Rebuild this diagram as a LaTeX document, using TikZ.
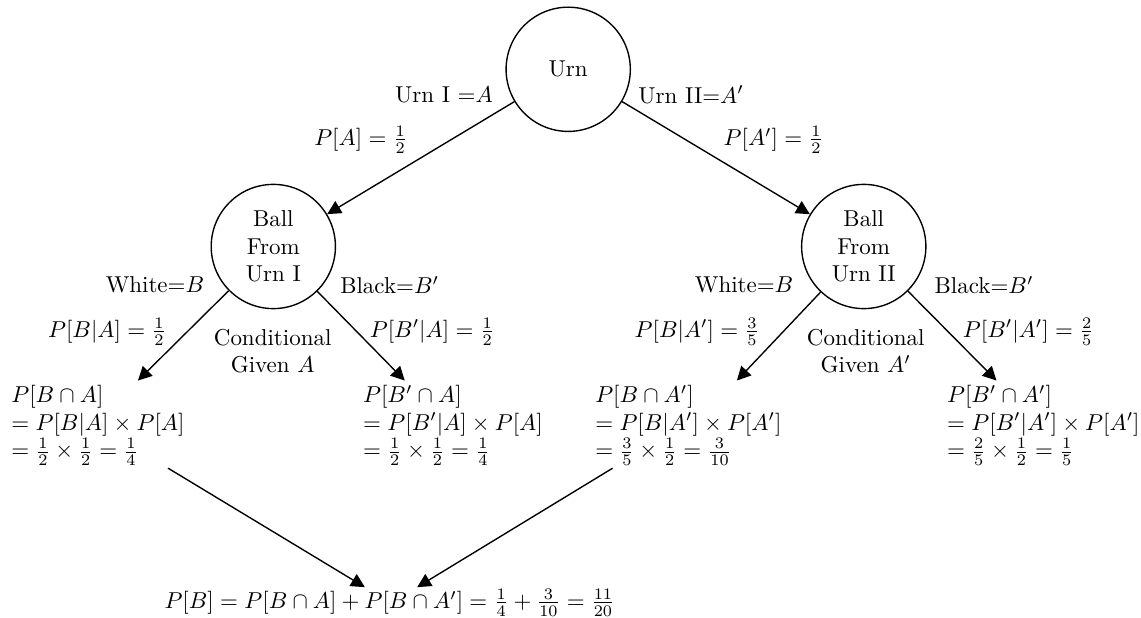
\documentclass[tikz,border=0pt]{standalone}
\usetikzlibrary{arrows.meta}

\begin{document}
\begin{tikzpicture}[
  state/.style={draw, semithick, circle, minimum size=1.9cm, align=center, inner sep=1pt},
  lbl/.style={align=center},
  leaf/.style={align=left, anchor=west},
  arrow/.style={-{Triangle[length=6pt,width=6pt]}, semithick}
]
  \useasboundingbox (0,0) rectangle (17.45,-9.45);
  \node[state] (u) at (8.69,-1.06) {Urn};
  \node[state] (b1) at (4.18,-3.77) {Ball\\From\\Urn I};
  \node[state] (b2) at (13.21,-3.77) {Ball\\From\\Urn II};

  \node[lbl] (ua) at (6.79,-1.45) {Urn I =$A$};
  \node[lbl] (ub) at (10.57,-1.45) {Urn II=$A'$};
  \node[lbl] (pa) at (5.52,-2.14) {$P[A]=\frac{1}{2}$};
  \node[lbl] (pb) at (11.83,-2.14) {$P[A']=\frac{1}{2}$};

  \node[lbl] (w1) at (2.37,-4.36) {White=$B$};
  \node[lbl] (k1) at (5.96,-4.36) {Black=$B'$};
  \node[lbl] (pw1) at (1.64,-5.07) {$P[B|A]=\frac{1}{2}$};
  \node[lbl] (pk1) at (6.61,-5.07) {$P[B'|A]=\frac{1}{2}$};
  \node[lbl] (c1) at (4.17,-5.37) {Conditional\\Given $A$};

  \node[lbl] (w2) at (11.38,-4.36) {White=$B$};
  \node[lbl] (k2) at (15.05,-4.36) {Black=$B'$};
  \node[lbl] (pw2) at (10.66,-5.07) {$P[B|A']=\frac{3}{5}$};
  \node[lbl] (pk2) at (15.73,-5.07) {$P[B'|A']=\frac{2}{5}$};
  \node[lbl] (c2) at (13.24,-5.37) {Conditional\\Given $A'$};

  \node[leaf] (l1) at (0.05,-6.51) {$P[B\cap A]$\\$=P[B|A]\times P[A]$\\$=\frac{1}{2}\times\frac{1}{2}=\frac{1}{4}$};
  \node[leaf] (l2) at (5.43,-6.51) {$P[B'\cap A]$\\$=P[B'|A]\times P[A]$\\$=\frac{1}{2}\times\frac{1}{2}=\frac{1}{4}$};
  \node[leaf] (l3) at (8.98,-6.51) {$P[B\cap A']$\\$=P[B|A']\times P[A']$\\$=\frac{3}{5}\times\frac{1}{2}=\frac{3}{10}$};
  \node[leaf] (l4) at (14.36,-6.51) {$P[B'\cap A']$\\$=P[B'|A']\times P[A']$\\$=\frac{2}{5}\times\frac{1}{2}=\frac{1}{5}$};

  \node[lbl] (tot) at (5.96,-9.22) {$P[B]=P[B\cap A]+P[B\cap A']=\frac{1}{4}+\frac{3}{10}=\frac{11}{20}$};

  \coordinate (t1) at (2.11,-5.82);
  \coordinate (t2) at (6.19,-5.82);
  \coordinate (t3) at (11.27,-5.82);
  \coordinate (t4) at (15.24,-5.82);
  \coordinate (s1) at (2.57,-7.16);
  \coordinate (s2) at (9.37,-7.16);
  \coordinate (e1) at (5.58,-8.98);
  \coordinate (e2) at (6.38,-8.98);

  \draw[arrow] (u) -- (b1);
  \draw[arrow] (u) -- (b2);
  \draw[arrow] (b1) -- (t1);
  \draw[arrow] (b1) -- (t2);
  \draw[arrow] (b2) -- (t3);
  \draw[arrow] (b2) -- (t4);
  \draw[arrow] (s1) -- (e1);
  \draw[arrow] (s2) -- (e2);
\end{tikzpicture}
\end{document}
